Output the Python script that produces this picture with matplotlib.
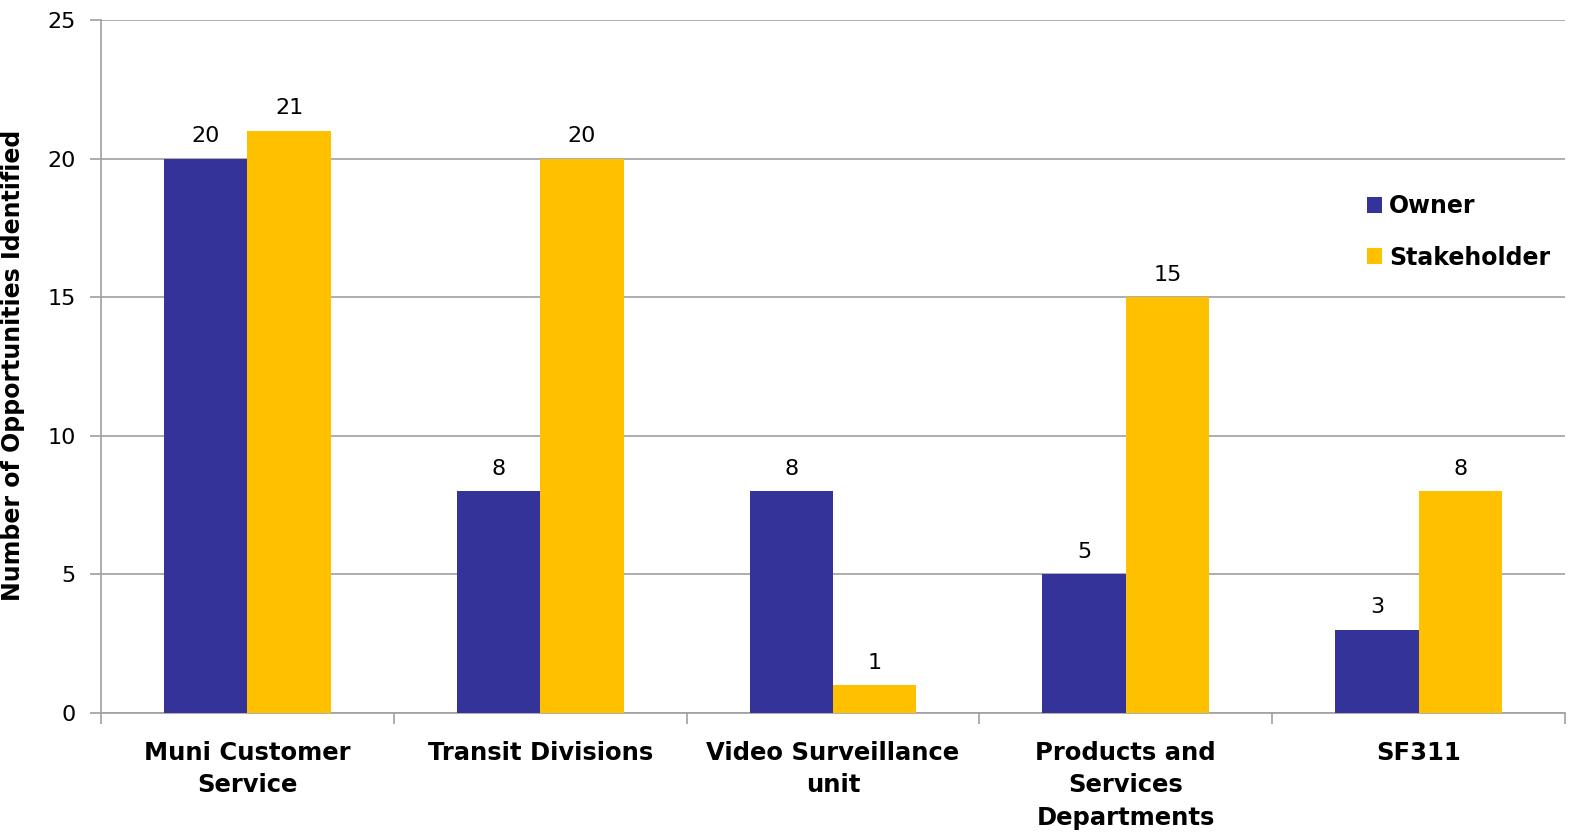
import matplotlib
matplotlib.use("Agg")
import matplotlib.pyplot as plt
import numpy as np

categories = ["Muni Customer\nService", "Transit Divisions", "Video Surveillance\nunit",
              "Products and\nServices\nDepartments", "SF311"]
owner = [20, 8, 8, 5, 3]
stakeholder = [21, 20, 1, 15, 8]
yticks = [0, 5, 10, 15, 20, 25]

plt.rcParams['font.family'] = ['DejaVu Sans']
fig = plt.figure(figsize=(15.79, 8.38), dpi=100)
ax = fig.add_axes([101/1579, 1-713/838, (1565-101)/1579, (713-20)/838])

x = np.arange(len(categories))
w = 0.285
b1 = ax.bar(x - w/2, owner, w, color="#333399", label="Owner", zorder=3)
b2 = ax.bar(x + w/2, stakeholder, w, color="#FFC000", label="Stakeholder", zorder=3)
for bars in (b1, b2):
    for r in bars:
        ax.annotate(f"{int(r.get_height())}", (r.get_x() + r.get_width()/2, r.get_height()),
                    xytext=(0, 9), textcoords="offset points", ha="center", va="bottom",
                    fontsize=16)

ax.set_xlim(-0.5, len(categories) - 0.5)
ax.set_ylim(0, 25)
ax.set_yticks(yticks)
ax.set_yticklabels([str(t) for t in yticks], fontsize=16)
ax.yaxis.grid(True, color="#A0A0A0", linewidth=1.2, zorder=0)
ax.set_axisbelow(True)
ax.set_xticks(np.arange(-0.5, len(categories)), minor=False)
ax.set_xticklabels([])
ax.set_xticks(x, minor=True)
ax.set_xticklabels(categories, minor=True, fontsize=17.5, fontweight="bold", linespacing=1.45)
ax.tick_params(axis='x', which='major', length=8, color="#A0A0A0", width=1.2)
ax.tick_params(axis='x', which='minor', length=0, pad=20)
ax.tick_params(axis='y', length=8, color="#A0A0A0", width=1.2, pad=10)
for s in ["top", "right"]:
    ax.spines[s].set_visible(False)
for s in ["left", "bottom"]:
    ax.spines[s].set_color("#A0A0A0")
    ax.spines[s].set_linewidth(1.2)
ax.set_ylabel("Number of Opportunities Identified", fontsize=17, fontweight="bold")
ax.yaxis.set_label_coords((25-101)/1464, (713-365)/693)

leg = ax.legend(loc="center left", bbox_to_anchor=(0.850, 0.694), frameon=False,
                prop={"size": 17, "weight": "bold"}, handlelength=0.65, handleheight=0.65,
                handletextpad=0.3, labelspacing=1.15)

fig.savefig("out.png", dpi=100)
